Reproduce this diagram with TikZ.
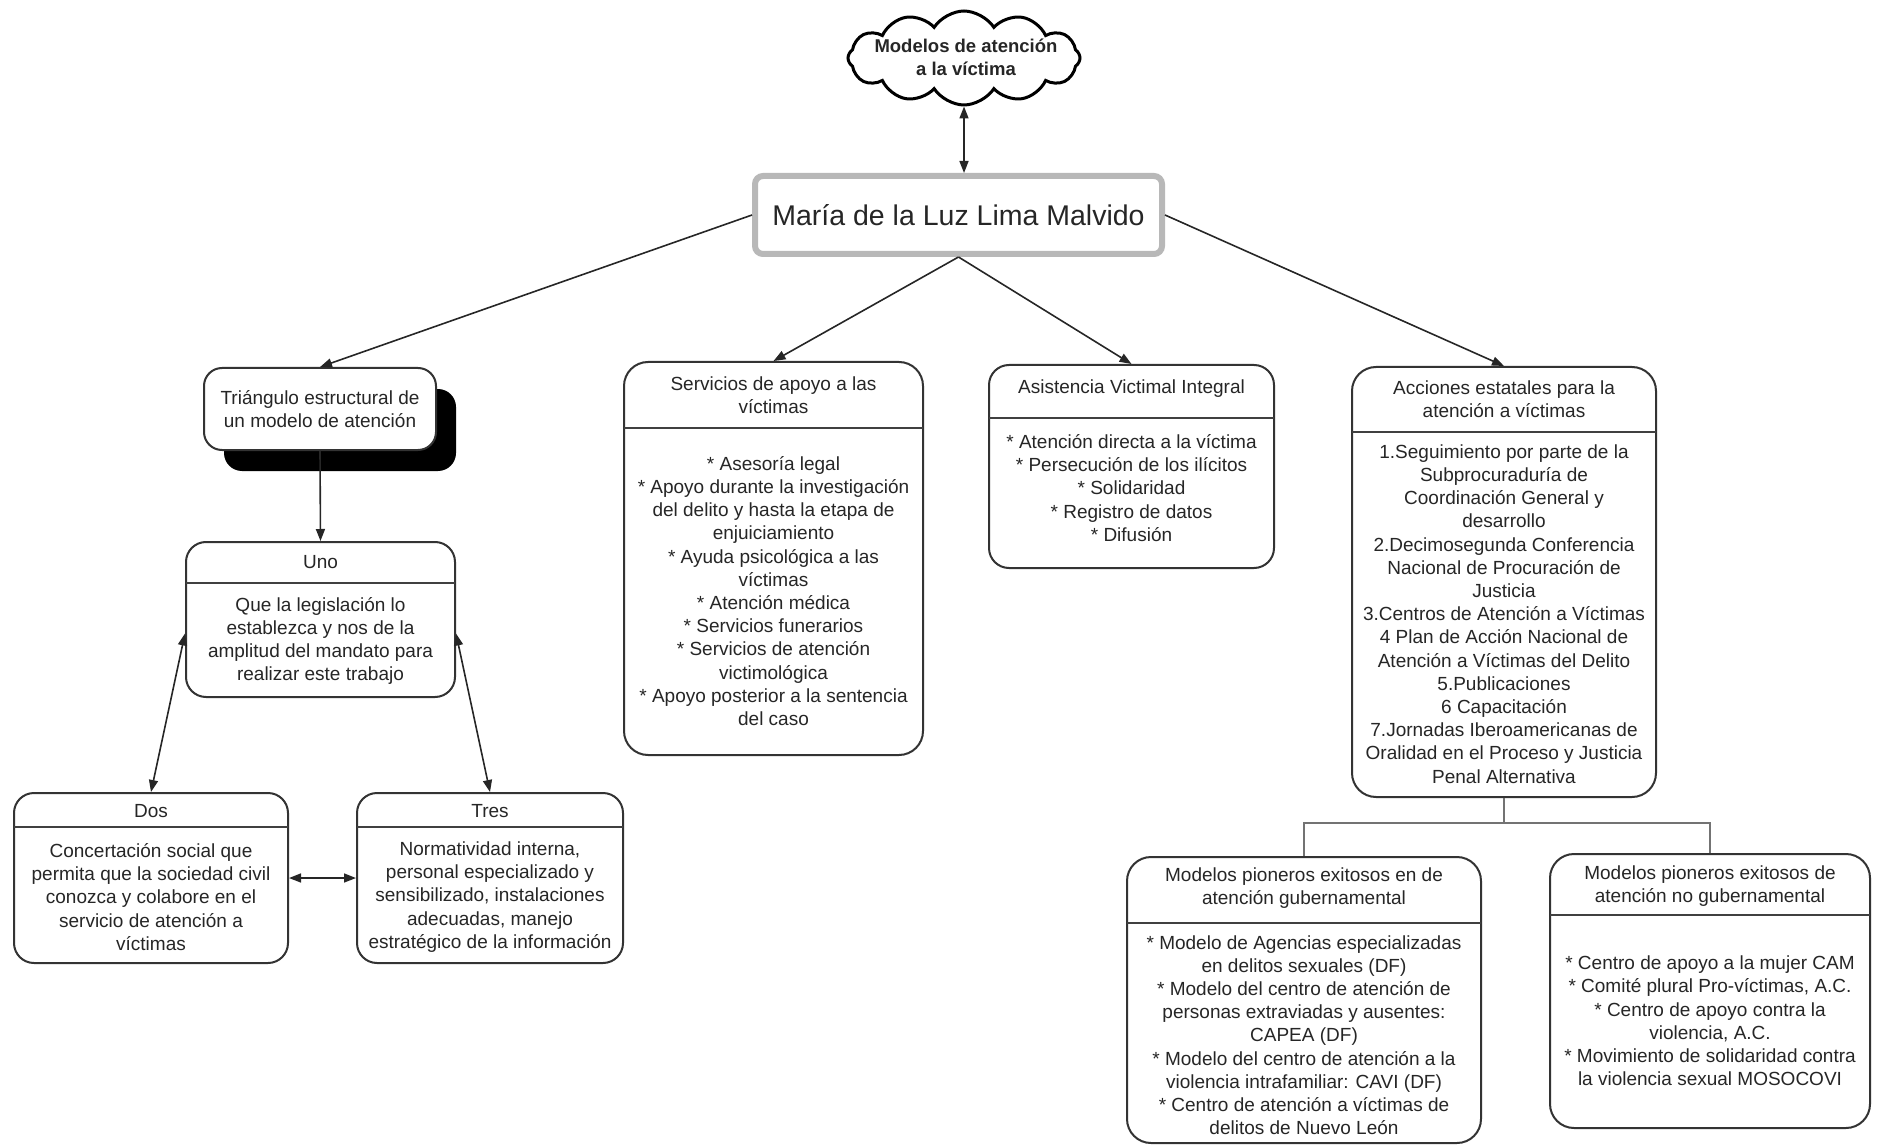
\documentclass[tikz,border=0pt]{standalone}
\usepackage{fontspec}
\setmainfont{Liberation Sans}
\usetikzlibrary{arrows.meta,shapes.symbols,shadows}

\begin{document}
\begin{tikzpicture}[x=1pt,y=-1pt,
  tip/.tip={Triangle[length=12pt,width=9pt]},
  box/.style={draw=black!80, line width=2pt, rounded corners=20pt, fill=white, inner sep=0pt},
  sepline/.style={draw=black!75, line width=1.6pt},
  txt/.style={align=center, inner sep=0pt, text=black!85, font=\fontsize{19}{23.2}\selectfont},
  link/.style={draw=black!85, line width=1.6pt, -tip},
  twoway/.style={draw=black!85, line width=1.6pt, tip-tip},
  branch/.style={draw=black!55, line width=1.5pt}
]
\useasboundingbox (0,0) rectangle (1879,1147);

% ---------- top: cloud and author ----------
\node[cloud, cloud puffs=12, cloud puff arc=115, draw=black, line width=3pt,
      fill=white, minimum width=232pt, minimum height=94pt, inner sep=0pt]
  (cloud) at (964,58) {};
\node[txt, font=\bfseries\fontsize{18.5}{23}\selectfont] (cloudT) at (966,57)
  {Modelos de atención\\a la víctima};

\node[draw=black!28, line width=6pt, rounded corners=8pt, fill=white,
      minimum width=407pt, minimum height=78pt, inner sep=0pt,
      text=black!85, font=\fontsize{28.5}{34}\selectfont]
  (maria) at (958.5,215) {María de la Luz Lima Malvido};

% ---------- branch 1: structural triangle ----------
\node[box, rounded corners=18pt, minimum width=232pt, minimum height=82pt, txt,
      drop shadow={shadow xshift=20pt, shadow yshift=-21pt, fill=black, opacity=1}]
  (tri) at (320,409) {Triángulo estructural de\\un modelo de atención};

\node[box, minimum width=269pt, minimum height=155pt] (uno) at (320.5,619.5) {};
\draw[sepline] (186,583) -- (455,583);
\node[txt] (unoH) at (320.5,562) {Uno};
\node[txt] (unoB) at (320.5,641) {Que la legislación lo\\establezca y nos de la\\amplitud del mandato para\\realizar este trabajo};

\node[box, minimum width=274pt, minimum height=170pt] (dos) at (151,878) {};
\draw[sepline] (14,827) -- (288,827);
\node[txt] (dosH) at (151,811) {Dos};
\node[txt] (dosB) at (151,897) {Concertación social que\\permita que la sociedad civil\\conozca y colabore en el\\servicio de atención a\\víctimas};

\node[box, minimum width=266pt, minimum height=170pt] (tres) at (490,878) {};
\draw[sepline] (357,827) -- (623,827);
\node[txt] (tresH) at (490,811) {Tres};
\node[txt] (tresB) at (490,897) {Normatividad interna,\\personal especializado y\\sensibilizado, instalaciones\\adecuadas, manejo\\estratégico de la información};

% ---------- branch 2: support services ----------
\node[box, rounded corners=24pt, minimum width=299pt, minimum height=393pt] (serv) at (773.5,558.5) {};
\draw[sepline] (624,428) -- (923,428);
\node[txt] (servH) at (773.5,395) {Servicios de apoyo a las\\víctimas};
\node[txt] (servB) at (773.5,591) {* Asesoría legal\\* Apoyo durante la investigación\\del delito y hasta la etapa de\\enjuiciamiento\\* Ayuda psicológica a las\\víctimas\\* Atención médica\\* Servicios funerarios\\* Servicios de atención\\victimológica\\* Apoyo posterior a la sentencia\\del caso};

% ---------- branch 3: integral assistance ----------
\node[box, minimum width=285pt, minimum height=203pt] (asis) at (1131.5,466.5) {};
\draw[sepline] (989,418) -- (1274,418);
\node[txt] (asisH) at (1131.5,389) {Asistencia Victimal Integral};
\node[txt] (asisB) at (1131.5,488) {* Atención directa a la víctima\\* Persecución de los ilícitos\\* Solidaridad\\* Registro de datos\\* Difusión};

% ---------- branch 4: state actions ----------
\node[box, rounded corners=24pt, minimum width=304pt, minimum height=430pt] (acc) at (1504,582) {};
\draw[sepline] (1352,432) -- (1656,432);
\node[txt] (accH) at (1504,399.5) {Acciones estatales para la\\atención a víctimas};
\node[txt] (accB) at (1504,614) {1.Seguimiento por parte de la\\Subprocuraduría de\\Coordinación General y\\desarrollo\\2.Decimosegunda Conferencia\\Nacional de Procuración de\\Justicia\\3.Centros de Atención a Víctimas\\4 Plan de Acción Nacional de\\Atención a Víctimas del Delito\\5.Publicaciones\\6 Capacitación\\7.Jornadas Iberoamericanas de\\Oralidad en el Proceso y Justicia\\Penal Alternativa};

\node[box, rounded corners=24pt, minimum width=354pt, minimum height=286pt] (gub) at (1304,1000) {};
\draw[sepline] (1127,923) -- (1481,923);
\node[txt] (gubH) at (1304,888) {Modelos pioneros exitosos en de\\atención gubernamental};
\node[txt] (gubB) at (1304,1035) {* Modelo de Agencias especializadas\\en delitos sexuales (DF)\\* Modelo del centro de atención de\\personas extraviadas y ausentes:\\CAPEA (DF)\\* Modelo del centro de atención a la\\violencia intrafamiliar: CAVI (DF)\\* Centro de atención a víctimas de\\delitos de Nuevo León};

\node[box, rounded corners=24pt, minimum width=320pt, minimum height=274pt] (nogub) at (1710,991) {};
\draw[sepline] (1550,915) -- (1870,915);
\node[txt] (nogubH) at (1710,886) {Modelos pioneros exitosos de\\atención no gubernamental};
\node[txt] (nogubB) at (1710,1021) {* Centro de apoyo a la mujer CAM\\* Comité plural Pro-víctimas, A.C.\\* Centro de apoyo contra la\\violencia, A.C.\\* Movimiento de solidaridad contra\\la violencia sexual MOSOCOVI};

% ---------- connectors ----------
\draw[twoway] (cloud.south) -- (cloud.south |- maria.north);
\draw[link] (maria.west) -- (tri.north);
\draw[link] (maria.south) -- (serv.north);
\draw[link] (maria.south) -- (asis.north);
\draw[link] (maria.east) -- (acc.north);
\draw[link] (tri.south) -- (uno.north);
\draw[twoway] ([yshift=-14pt]uno.west) -- (dos.north);
\draw[twoway] ([yshift=-14pt]uno.east) -- (tres.north);
\draw[twoway] (dos.east) -- (tres.west);
\draw[branch] (acc.south) -- ++(0,25) coordinate (fork) -| (gub.north);
\draw[branch] (fork) -| (nogub.north);
\end{tikzpicture}
\end{document}
